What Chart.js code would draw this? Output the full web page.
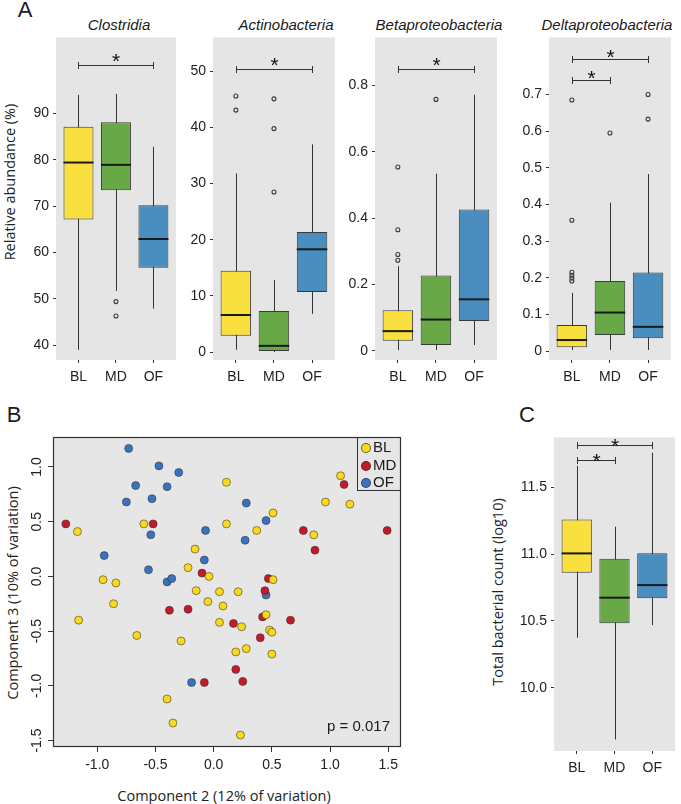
<!DOCTYPE html>
<html>
<head>
<meta charset="utf-8">
<script src="https://cdn.jsdelivr.net/npm/chart.js@4.4.1/dist/chart.umd.min.js"></script>
<style>
  body { margin: 0; background: #fff; width: 681px; height: 804px; position: relative; overflow: hidden;
         font-family: "Liberation Sans", Arial, sans-serif; color: #1a1a1a; }
  canvas { position: absolute; }
  .t { position: absolute; white-space: nowrap; transform: translate(-50%, -50%); }
  .ttl { font-style: italic; font-size: 15px; }
  .lbl { font-size: 22px; }
  .ax { font-family: "Open Sans", sans-serif; font-size: 14.5px; color: #222; }
  .rot { transform: translate(-50%, -50%) rotate(-90deg); }
  #legend { position: absolute; left: 357px; top: 437px; width: 44px; height: 54px; box-sizing: border-box;
            border: 1px solid #333; font-size: 15px; }
  #legend div { position: absolute; left: 3px; height: 18px; line-height: 18px; }
  #legend span { display: inline-block; width: 8px; height: 8px; border-radius: 50%; border: 1px solid rgba(50,50,40,0.7);
                 vertical-align: -1px; margin-right: 2px; }
  #pval { position: absolute; left: 327px; top: 725px; transform: translate(0, -50%); font-size: 15px; }
</style>
</head>
<body>
<div class="t lbl" style="left:25px; top:10px;">A</div>
<div class="t lbl" style="left:14px; top:415px;">B</div>
<div class="t lbl" style="left:527px; top:415px;">C</div>

<div class="t ttl" style="left:119px; top:24px;">Clostridia</div>
<div class="t ttl" style="left:286px; top:24px;">Actinobacteria</div>
<div class="t ttl" style="left:439px; top:24px;">Betaproteobacteria</div>
<div class="t ttl" style="left:607px; top:24px;">Deltaproteobacteria</div>

<div class="t ax rot" style="left:9px; top:182px;">Relative abundance (%)</div>
<div class="t ax rot" style="left:12px; top:593px;">Component 3 (10% of variation)</div>
<div class="t ax" style="left:224px; top:795px;">Component 2 (12% of variation)</div>
<div class="t ax rot" style="left:497px; top:592px;">Total bacterial count (log10)</div>

<canvas id="clost"></canvas>
<canvas id="actino"></canvas>
<canvas id="beta"></canvas>
<canvas id="delta"></canvas>
<canvas id="pcoa"></canvas>
<canvas id="total"></canvas>

<div id="legend">
  <div style="top:0px;"><span style="background:#FAD81C"></span>BL</div>
  <div style="top:18px;"><span style="background:#C3192C"></span>MD</div>
  <div style="top:35px;"><span style="background:#3A72C2"></span>OF</div>
</div>
<div id="pval">p = 0.017</div>

<script>
// groups on every box panel
const groups = ['BL', 'MD', 'OF'];
const boxColors = ['#F9E03E', '#68A847', '#4A8DBF'];

// Clostridia (%)
const clostMin = [39.0, 51.7, 47.9];
const clostQ1 = [67.1, 73.4, 56.7];
const clostMed = [79.4, 78.9, 62.9];
const clostQ3 = [87.1, 88.1, 70.2];
const clostMax = [94.0, 94.2, 82.8];
const clostOutGroup = [2, 2];
const clostOutVal = [49.4, 46.3];
const clostTicks = [40, 50, 60, 70, 80, 90];
const clostSigFrom = [1];
const clostSigTo = [3];
const clostSigY = [100.4];

// Actinobacteria (%)
const actinoMin = [0.4, 0.0, 6.8];
const actinoQ1 = [2.9, 0.2, 10.7];
const actinoMed = [6.6, 1.1, 18.3];
const actinoQ3 = [14.5, 7.3, 21.4];
const actinoMax = [31.8, 12.8, 37.0];
const actinoOutGroup = [1, 1, 2, 2, 2];
const actinoOutVal = [45.6, 43.1, 45.1, 39.8, 28.5];
const actinoTicks = [0, 10, 20, 30, 40, 50];
const actinoSigFrom = [1];
const actinoSigTo = [3];
const actinoSigY = [50.5];

// Betaproteobacteria (%)
const betaMin = [0.002, 0.002, 0.017];
const betaQ1 = [0.03, 0.017, 0.09];
const betaMed = [0.059, 0.094, 0.155];
const betaQ3 = [0.122, 0.227, 0.426];
const betaMax = [0.255, 0.534, 0.772];
const betaOutGroup = [1, 1, 1, 1, 2];
const betaOutVal = [0.554, 0.365, 0.29, 0.273, 0.758];
const betaTicks = [0, 0.2, 0.4, 0.6, 0.8];
const betaSigFrom = [1];
const betaSigTo = [3];
const betaSigY = [0.85];

// Deltaproteobacteria (%)
const deltaMin = [0.003, 0.003, 0.003];
const deltaQ1 = [0.01, 0.044, 0.035];
const deltaMed = [0.03, 0.105, 0.066];
const deltaQ3 = [0.071, 0.191, 0.214];
const deltaMax = [0.159, 0.405, 0.483];
const deltaOutGroup = [1, 1, 1, 1, 1, 1, 2, 3, 3];
const deltaOutVal = [0.685, 0.357, 0.215, 0.207, 0.199, 0.191, 0.595, 0.70, 0.633];
const deltaTicks = [0, 0.1, 0.2, 0.3, 0.4, 0.5, 0.6, 0.7];
const deltaSigFrom = [1, 1];
const deltaSigTo = [3, 2];
const deltaSigY = [0.798, 0.739];

// Total bacterial count (log10)
const totalMin = [10.375, 9.614, 10.469];
const totalQ1 = [10.86, 10.482, 10.669];
const totalMed = [11.005, 10.674, 10.768];
const totalQ3 = [11.259, 10.965, 11.007];
const totalMax = [11.658, 11.204, 11.758];
const totalTicks = [10.0, 10.5, 11.0, 11.5];
const totalSigFrom = [1, 1];
const totalSigTo = [3, 2];
const totalSigY = [11.815, 11.703];

// PCoA scores (component 2, component 3)
const blX = [-1.17, 0.11, -0.60, 0.11, 0.37, -0.16, -0.95, -0.84, -0.86, -1.16, -0.22, -0.04, -0.15, 0.05, 0.21, -0.05, 0.08, 0.05,
             0.24, -0.66, -0.28, 0.19, 0.28, -0.40, -0.35, 0.23, 1.09, 0.96, 1.17, 0.51, 0.86, 0.51, 0.45, 0.48, 0.50, 0.50];
const blY = [0.41, 0.86, 0.48, 0.48, 0.42, 0.25, -0.03, -0.06, -0.25, -0.40, 0.08, 0.00, -0.13, -0.14, -0.14, -0.23, -0.27, -0.42,
             -0.46, -0.54, -0.59, -0.69, -0.66, -1.12, -1.34, -1.45, 0.92, 0.68, 0.66, 0.58, 0.38, -0.03, -0.35, -0.49, -0.51, -0.71];
const mdX = [-1.27, -0.52, -0.10, -0.38, -0.22, 0.17, 0.19, 0.25, -0.08, 1.12, 0.77, 0.87, 1.49, 0.47, 0.44, 0.42, 0.66, 0.40];
const mdY = [0.48, 0.48, 0.03, -0.31, -0.30, -0.43, -0.85, -0.96, -0.97, 0.84, 0.42, 0.24, 0.42, -0.02, -0.13, -0.37, -0.40, -0.56];
const ofX = [-0.73, -0.47, -0.30, -0.67, -0.40, -0.75, -0.53, -0.54, -0.94, -0.56, -0.40, -0.36, -0.07, -0.08, 0.28, 0.27, -0.19, 0.45, 0.45];
const ofY = [1.17, 1.01, 0.95, 0.83, 0.82, 0.68, 0.71, 0.38, 0.19, 0.06, -0.05, -0.02, 0.42, 0.15, 0.67, 0.33, -0.97, 0.51, -0.17];
const pcoaXTicks = [-1.0, -0.5, 0.0, 0.5, 1.0, 1.5];
const pcoaYTicks = [-1.5, -1.0, -0.5, 0.0, 0.5, 1.0];

Chart.defaults.font.family = '"Liberation Sans", Arial, sans-serif';
Chart.defaults.color = '#333';

// grey panel background (and optional frame)
const panelBg = {
    id: 'panelBg',
    beforeDraw(chart, args, o) {
        const { ctx, chartArea: a } = chart;
        ctx.save();
        ctx.fillStyle = o.color || '#E5E5E5';
        ctx.fillRect(a.left, a.top, a.right - a.left, a.bottom - a.top);
        ctx.restore();
    },
    afterDraw(chart, args, o) {
        if (!o.frame) return;
        const { ctx, chartArea: a } = chart;
        ctx.save();
        ctx.strokeStyle = o.frame;
        ctx.lineWidth = 1.2;
        ctx.strokeRect(a.left + 0.5, a.top + 0.5, a.right - a.left - 1, a.bottom - a.top - 1);
        ctx.restore();
    }
};

// whiskers behind the boxes, medians and significance brackets on top
const boxExtras = {
    id: 'boxExtras',
    beforeDatasetsDraw(chart, args, o) {
        const { ctx, scales: { x, y } } = chart;
        ctx.save();
        ctx.strokeStyle = '#333';
        ctx.lineWidth = 1;
        o.min.forEach((v, i) => {
            const px = Math.round(x.getPixelForValue(i + 1)) + 0.5;
            ctx.beginPath();
            ctx.moveTo(px, y.getPixelForValue(v));
            ctx.lineTo(px, y.getPixelForValue(o.max[i]));
            ctx.stroke();
        });
        ctx.restore();
    },
    afterDatasetsDraw(chart, args, o) {
        const { ctx, scales: { x, y } } = chart;
        const bars = chart.getDatasetMeta(1).data;
        ctx.save();
        ctx.strokeStyle = '#1a1a1a';
        ctx.lineWidth = 2;
        o.med.forEach((v, i) => {
            const el = bars[i];
            const py = y.getPixelForValue(v);
            ctx.beginPath();
            ctx.moveTo(el.x - el.width / 2, py);
            ctx.lineTo(el.x + el.width / 2, py);
            ctx.stroke();
        });
        ctx.strokeStyle = '#333';
        ctx.lineWidth = 1;
        ctx.fillStyle = '#111';
        ctx.font = '21px "Liberation Sans", Arial, sans-serif';
        ctx.textAlign = 'center';
        ctx.textBaseline = 'alphabetic';
        o.sigFrom.forEach((f, k) => {
            const x1 = Math.round(x.getPixelForValue(f)) + 0.5;
            const x2 = Math.round(x.getPixelForValue(o.sigTo[k])) + 0.5;
            const py = Math.round(y.getPixelForValue(o.sigY[k])) + 0.5;
            ctx.beginPath();
            ctx.moveTo(x1, py); ctx.lineTo(x2, py);
            ctx.moveTo(x1, py - 3.5); ctx.lineTo(x1, py + 3.5);
            ctx.moveTo(x2, py - 3.5); ctx.lineTo(x2, py + 3.5);
            ctx.stroke();
            ctx.fillText('*', (x1 + x2) / 2, py - o.starGap + 12);
        });
        ctx.restore();
    }
};

function place(id, g) {
    const c = document.getElementById(id);
    c.width = g.r - g.l + g.yw + g.pr;
    c.height = g.b - g.t + g.pt + g.xh;
    c.style.left = (g.l - g.yw) + 'px';
    c.style.top = (g.t - g.pt) + 'px';
    return c;
}

function boxChart(id, g, s) {
    const canvas = place(id, g);
    const boxes = groups.map((name, i) => ({ x: i + 1, y: [s.q1[i], s.q3[i]] }));
    const outliers = s.outGroup.map((gi, k) => ({ x: gi, y: s.outVal[k] }));
    return new Chart(canvas, {
        type: 'bar',
        data: {
            datasets: [{
                type: 'scatter',
                data: outliers,
                pointRadius: 2,
                pointBorderWidth: 1.1,
                pointBorderColor: '#3a3a3a',
                pointBackgroundColor: 'rgba(0,0,0,0)'
            }, {
                data: boxes,
                backgroundColor: boxColors,
                borderColor: '#3a3a3a',
                borderWidth: 1,
                borderSkipped: false,
                barPercentage: 0.8,
                categoryPercentage: 1
            }]
        },
        options: {
            responsive: false,
            animation: false,
            devicePixelRatio: 1,
            layout: { padding: { top: g.pt, right: g.pr, left: 0, bottom: 0 } },
            plugins: {
                legend: { display: false },
                tooltip: { enabled: false },
                panelBg: { color: '#E5E5E5' },
                boxExtras: {
                    min: s.min, max: s.max, med: s.med,
                    sigFrom: s.sigFrom, sigTo: s.sigTo, sigY: s.sigY, starGap: s.starGap
                }
            },
            scales: {
                x: {
                    type: 'linear', min: 0.4, max: 3.6, offset: false,
                    afterBuildTicks: sc => { sc.ticks = groups.map((n, i) => ({ value: i + 1 })); },
                    afterFit: sc => { sc.height = g.xh; },
                    ticks: {
                        callback: v => groups[Math.round(v) - 1],
                        color: '#222', font: { size: 14 }, padding: 6, autoSkip: false, maxRotation: 0
                    },
                    grid: { drawOnChartArea: false, drawTicks: true, tickLength: 3, tickColor: '#333', offset: false },
                    border: { display: false }
                },
                y: {
                    min: s.lo, max: s.hi,
                    afterBuildTicks: sc => { sc.ticks = s.ticks.map(v => ({ value: v })); },
                    afterFit: sc => { sc.width = g.yw; },
                    ticks: { callback: s.fmt, color: '#222', font: { size: 14 }, padding: 4 },
                    grid: { drawOnChartArea: false, drawTicks: true, tickLength: 3, tickColor: '#333' },
                    border: { display: false }
                }
            }
        },
        plugins: [panelBg, boxExtras]
    });
}

boxChart('clost', { l: 56, r: 176, t: 37, b: 360, yw: 28, pt: 12, pr: 5, xh: 28 }, {
    min: clostMin, q1: clostQ1, med: clostMed, q3: clostQ3, max: clostMax,
    outGroup: clostOutGroup, outVal: clostOutVal, ticks: clostTicks, fmt: v => String(v),
    lo: 36.8, hi: 106.4, sigFrom: clostSigFrom, sigTo: clostSigTo, sigY: clostSigY, starGap: 10
});
boxChart('actino', { l: 213, r: 335, t: 37, b: 360, yw: 28, pt: 12, pr: 5, xh: 28 }, {
    min: actinoMin, q1: actinoQ1, med: actinoMed, q3: actinoQ3, max: actinoMax,
    outGroup: actinoOutGroup, outVal: actinoOutVal, ticks: actinoTicks, fmt: v => String(v),
    lo: -1.42, hi: 56.05, sigFrom: actinoSigFrom, sigTo: actinoSigTo, sigY: actinoSigY, starGap: 10
});
boxChart('beta', { l: 375, r: 497, t: 37, b: 360, yw: 30, pt: 12, pr: 5, xh: 28 }, {
    min: betaMin, q1: betaQ1, med: betaMed, q3: betaQ3, max: betaMax,
    outGroup: betaOutGroup, outVal: betaOutVal, ticks: betaTicks, fmt: v => String(v),
    lo: -0.028, hi: 0.945, sigFrom: betaSigFrom, sigTo: betaSigTo, sigY: betaSigY, starGap: 10
});
boxChart('delta', { l: 549, r: 671, t: 37, b: 360, yw: 30, pt: 12, pr: 5, xh: 28 }, {
    min: deltaMin, q1: deltaQ1, med: deltaMed, q3: deltaQ3, max: deltaMax,
    outGroup: deltaOutGroup, outVal: deltaOutVal, ticks: deltaTicks, fmt: v => String(v),
    lo: -0.0245, hi: 0.856, sigFrom: deltaSigFrom, sigTo: deltaSigTo, sigY: deltaSigY, starGap: 8
});
boxChart('total', { l: 554, r: 675, t: 437, b: 751, yw: 38, pt: 12, pr: 5, xh: 28 }, {
    min: totalMin, q1: totalQ1, med: totalMed, q3: totalQ3, max: totalMax,
    outGroup: [], outVal: [], ticks: totalTicks, fmt: v => v.toFixed(1),
    lo: 9.528, hi: 11.872, sigFrom: totalSigFrom, sigTo: totalSigTo, sigY: totalSigY, starGap: 5
});

// panel B: PCoA scatter
const gB = { l: 53, r: 401, t: 437, b: 747, yw: 53, pt: 10, pr: 8, xh: 28 };
const pt = (xs, ys) => xs.map((v, i) => ({ x: v, y: ys[i] }));
const dot = { pointRadius: 4, pointBorderWidth: 0.8, pointBorderColor: 'rgba(50,50,40,0.7)' };
new Chart(place('pcoa', gB), {
    type: 'scatter',
    data: {
        datasets: [
            { label: 'BL', data: pt(blX, blY), pointBackgroundColor: '#FAD81C', ...dot },
            { label: 'MD', data: pt(mdX, mdY), pointBackgroundColor: '#C3192C', ...dot },
            { label: 'OF', data: pt(ofX, ofY), pointBackgroundColor: '#3A72C2', ...dot }
        ]
    },
    options: {
        responsive: false,
        animation: false,
        devicePixelRatio: 1,
        layout: { padding: { top: gB.pt, right: gB.pr, left: 0, bottom: 0 } },
        plugins: {
            legend: { display: false },
            tooltip: { enabled: false },
            panelBg: { color: '#E6E6E6', frame: '#333' }
        },
        scales: {
            x: {
                type: 'linear', min: -1.38, max: 1.609,
                afterBuildTicks: sc => { sc.ticks = pcoaXTicks.map(v => ({ value: v })); },
                afterFit: sc => { sc.height = gB.xh; },
                ticks: { callback: v => v.toFixed(1), color: '#222', font: { size: 14 }, padding: 5, maxRotation: 0 },
                grid: { drawOnChartArea: false, tickLength: 5, tickColor: '#333' },
                border: { display: false }
            },
            y: {
                type: 'linear', min: -1.559, max: 1.274,
                afterBuildTicks: sc => { sc.ticks = pcoaYTicks.map(v => ({ value: v })); },
                afterFit: sc => { sc.width = gB.yw; },
                ticks: {
                    callback: v => v.toFixed(1), color: '#222', font: { size: 14 },
                    minRotation: 90, maxRotation: 90, crossAlign: 'center', padding: -1.5
                },
                grid: { drawOnChartArea: false, tickLength: 5, tickColor: '#333' },
                border: { display: false }
            }
        }
    },
    plugins: [panelBg]
});
</script>
</body>
</html>
